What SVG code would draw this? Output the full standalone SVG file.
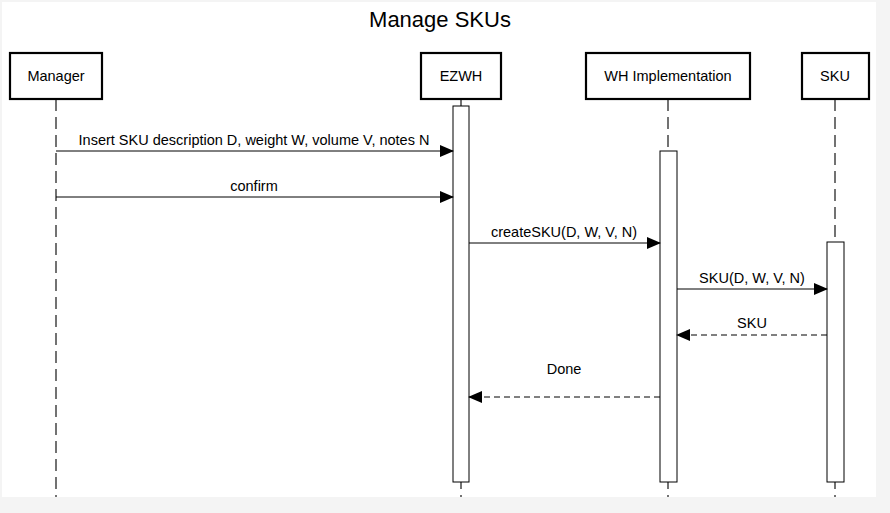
<svg xmlns="http://www.w3.org/2000/svg" width="890" height="513" viewBox="0 0 890 513">
<style>
.bg{fill:#f4f4f4}
.page{fill:#ffffff}
.actor{fill:#ffffff;stroke:#000;stroke-width:2.2}
.life{stroke:#444;stroke-width:1.5;stroke-dasharray:12 6;fill:none}
.act{fill:#ffffff;stroke:#000;stroke-width:1}
.msg{stroke:#000;stroke-width:1;fill:none}
.ret{stroke:#000;stroke-width:1;fill:none;stroke-dasharray:6 4}
text{font-family:"Liberation Sans",Arial,sans-serif;fill:#000}
.lbl{font-size:14.5px;text-anchor:middle}
.title{font-size:22px;text-anchor:middle}
</style>
<defs>
<marker id="ah" markerWidth="14" markerHeight="12" refX="13" refY="6" orient="auto" markerUnits="userSpaceOnUse">
<path d="M0,0 L14,6 L0,12 Z" fill="#000"/>
</marker>
</defs>
<rect class="bg" x="0" y="0" width="890" height="513"/>
<rect class="page" x="2" y="2" width="874" height="495"/>
<text class="title" x="440" y="27">Manage SKUs</text>

<g id="lifelines">
<line class="life" x1="56" y1="99" x2="56" y2="497"/>
<line class="life" x1="461" y1="99" x2="461" y2="497"/>
<line class="life" x1="668" y1="99" x2="668" y2="497"/>
<line class="life" x1="835" y1="99" x2="835" y2="497"/>
</g>

<g id="manager">
<rect class="actor" x="10" y="53" width="92" height="46"/>
<text class="lbl" x="56" y="81">Manager</text>
</g>
<g id="ezwh">
<rect class="actor" x="421" y="53" width="80" height="46"/>
<text class="lbl" x="461" y="81">EZWH</text>
<rect class="act" x="453" y="106" width="16" height="376"/>
</g>
<g id="whimpl">
<rect class="actor" x="586" y="53" width="164" height="46"/>
<text class="lbl" x="668" y="81">WH Implementation</text>
<rect class="act" x="660" y="151" width="17" height="331"/>
</g>
<g id="sku">
<rect class="actor" x="802" y="53" width="67" height="46"/>
<text class="lbl" x="835" y="81">SKU</text>
<rect class="act" x="827" y="242" width="17" height="240"/>
</g>

<g id="connectors">
<line class="msg" x1="56" y1="151" x2="453" y2="151" marker-end="url(#ah)"/>
<text class="lbl" x="254" y="145">Insert SKU description D, weight W, volume V, notes N</text>
<line class="msg" x1="56" y1="197" x2="453" y2="197" marker-end="url(#ah)"/>
<text class="lbl" x="254" y="191">confirm</text>
<line class="msg" x1="469" y1="243" x2="660" y2="243" marker-end="url(#ah)"/>
<text class="lbl" x="564" y="237">createSKU(D, W, V, N)</text>
<line class="msg" x1="677" y1="289" x2="827" y2="289" marker-end="url(#ah)"/>
<text class="lbl" x="752" y="283">SKU(D, W, V, N)</text>
<line class="ret" x1="827" y1="335" x2="677" y2="335" marker-end="url(#ah)"/>
<text class="lbl" x="752" y="328">SKU</text>
<line class="ret" x1="660" y1="397" x2="469" y2="397" marker-end="url(#ah)"/>
<text class="lbl" x="564" y="374">Done</text>
</g>
</svg>
